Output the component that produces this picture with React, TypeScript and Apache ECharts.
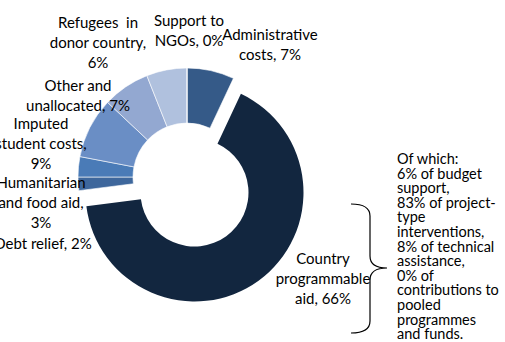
import React, { useEffect, useRef } from "react";
import * as echarts from "echarts";

const categories = [
  "Administrative costs",
  "Country programmable aid",
  "Debt relief",
  "Humanitarian and food aid",
  "Imputed student costs",
  "Other and unallocated",
  "Refugees in donor country",
  "Support to NGOs",
];
const shares = [7, 66, 2, 3, 9, 7, 6, 0];
const labelTexts = [
  "Administrative\ncosts, 7%",
  "Country\nprogrammable\naid, 66%",
  "Debt relief, 2%",
  "Humanitarian\nand food aid,\n3%",
  "Imputed\nstudent costs,\n9%",
  "Other and\nunallocated, 7%",
  "Refugees  in\ndonor country,\n6%",
  "Support to\nNGOs, 0%",
];
const noteLines = [
  "Of which:",
  "6% of budget",
  "support,",
  "83% of project-",
  "type",
  "interventions,",
  "8% of technical",
  "assistance,",
  "0% of",
  "contributions to",
  "pooled",
  "programmes",
  "and funds.",
];
const explodedIndex = 1;

const colors = ["#355a88", "#12263f", "#3e679c", "#4a7bb7", "#6a8ec5", "#93a8d1", "#b0c1de", "#c8d2e6"];
const labelPos: [number, number][] = [
  [270, 44],
  [323, 278],
  [43, 243],
  [41, 202],
  [41, 143],
  [78, 95],
  [98, 42],
  [189, 30],
];

const BRACE =
  "M351,204 Q370,204 370,216 L370,256 Q370,268 387,268 Q370,268 370,280 L370,321 Q370,333 351,333";

export default function App() {
  const ref = useRef<HTMLDivElement>(null);
  useEffect(() => {
    document.body.style.margin = "0";
    if (!ref.current) return;
    echarts.graphic.registerShape("brace", echarts.graphic.extendPath(BRACE, {}) as any);
    const chart = echarts.init(ref.current, null, { renderer: "svg" });
    const font = "Lato";
    const cx = 187;
    const cy = 177;
    const base = {
      type: "pie",
      radius: [54, 109],
      startAngle: 90,
      clockwise: true,
      avoidLabelOverlap: false,
      emphasis: { disabled: true },
      labelLine: { show: false },
    };
    chart.setOption({
      animation: false,
      backgroundColor: "#ffffff",
      series: [
        {
          ...base,
          center: [cx, cy],
          itemStyle: { borderColor: "#ffffff", borderWidth: 0.6 },
          label: {
            show: true,
            position: "outside",
            fontFamily: font,
            fontSize: 15,
            lineHeight: 20,
            color: "#000000",
            align: "center",
            formatter: (p: any) => labelTexts[p.dataIndex],
          },
          labelLayout: (p: any) => ({
            x: labelPos[p.dataIndex][0],
            y: labelPos[p.dataIndex][1],
            align: "center",
            verticalAlign: "middle",
          }),
          data: categories.map((c, i) => ({
            name: c,
            value: shares[i],
            itemStyle:
              i === explodedIndex
                ? { color: "rgba(0,0,0,0)", borderWidth: 0 }
                : { color: colors[i] },
          })),
        },
        {
          ...base,
          center: [cx + 7.5, cy + 15.5],
          silent: true,
          label: { show: false },
          data: categories.map((c, i) => ({
            name: c,
            value: shares[i],
            itemStyle:
              i === explodedIndex
                ? { color: colors[i], borderWidth: 0 }
                : { color: "rgba(0,0,0,0)", borderWidth: 0 },
          })),
        },
      ],
      graphic: [
        {
          type: "brace",
          x: 0,
          y: 0,
          style: { fill: "none", stroke: "#000000", lineWidth: 1.2 },
        },
        {
          type: "text",
          left: 397,
          top: 151,
          style: {
            text: noteLines.join("\n"),
            fontFamily: font,
            fontSize: 14.5,
            lineHeight: 14.6,
            fill: "#000000",
          },
        },
      ],
    });
    return () => chart.dispose();
  }, []);
  return <div ref={ref} style={{ width: 505, height: 342 }} />;
}
